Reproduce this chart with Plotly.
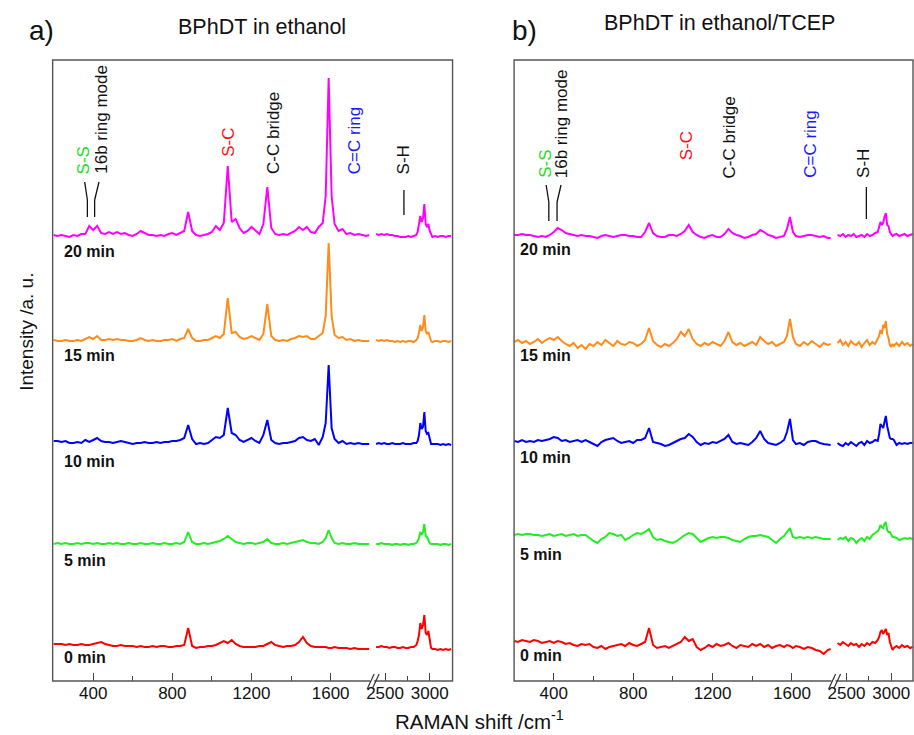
import plotly.graph_objects as go

# ---------------- data ----------------
# Raman shift grids (cm^-1): low segment and high segment (broken axis)
LOW_X = list(range(200, 1561, 20)) + [1575, 1590, 1605] + list(range(1620, 1781, 20)) + [1795]
HIGH_X = list(range(2400, 2851, 30)) + list(range(2865, 3031, 15)) + list(range(3060, 3241, 30))

TIMES = ["0 min", "5 min", "10 min", "15 min", "20 min"]
COLORS = ["#FF0000", "#22EE22", "#0000FF", "#FF8C1A", "#FF00FF"]

# stacking offsets of each spectrum (a.u.)
OFFSETS_A = [36, 137, 238, 340, 445]
OFFSETS_B = [39, 146, 239, 339, 446]

# ---- panel a: BPhDT in ethanol ----
a0_low = [1, 1, 1, 0, 1, 0, 0, 1, 0, 0,
          1, 2, 3, 1, 0, -1, -1, 0, -1, -1,
          -1, -2, -1, -2, -2, -1, -2, -1, -1, -2,
          -2, -1, -1, 0, 17, -1, -3, -2, -2, -1,
          -1, 0, 2, 4, 2, 5, 1, -1, -2, -2,
          -2, -2, -1, -1, 1, 3, 0, -1, -2, -1,
          -1, 0, 3, 8, 2, -1, -2, -2, -2,
          -2, -3, -3,
          -2, -3, -3, -3, -4, -3, -4, -4, -4,
          -4]
a0_high = [-2, -2, -1, -2, -2, -3, -2, -2, -3, -3, -2, -3, -3, -2, -2, 0,
           4, 10, 22, 16, 20, 30, 12, 10, 14, 3, -3, -4,
           -4, -5, -4, -5, -4, -5, -4]

a5_low = [0, 1, 0, 1, 0, 0, 1, 0, 1, 1,
          0, 1, 0, 0, 1, 0, 1, 0, 0, 1,
          0, 0, 1, 0, 0, 1, 0, 0, 1, 0,
          0, 1, 0, 2, 12, 2, 0, 0, 1, 0,
          1, 2, 3, 5, 8, 5, 2, 1, 0, 1,
          1, 0, 1, 2, 5, 1, 0, 0, 1, 0,
          1, 2, 3, 4, 2, 1, 1, 0, 2,
          6, 14, 6,
          1, 0, 1, 0, 0, 1, 0, 0, 0,
          0]
a5_high = [0, 0, 1, 0, 0, 0, -1, 0, 0, -1, 0, 0, -1, 0, 0, 1,
           3, 6, 12, 9, 12, 20, 8, 7, 4, 1, 0, 0,
           0, 0, -1, 0, 0, -1, 0]

a10_low = [2, 2, 1, 2, 0, 0, 1, 0, 3, 1,
           3, 5, 2, 1, 1, 0, 1, 2, 1, 0,
           -1, 0, 0, 1, 0, 0, 1, 0, 1, 1,
           2, 2, 3, 5, 18, 4, -1, 0, -1, 0,
           3, 6, 5, 8, 35, 10, 8, 3, 1, 3,
           5, 2, 0, 8, 23, 3, 0, -1, 0, 0,
           1, 2, 5, 6, 3, 2, 4, -2, 6,
           20, 78, 15,
           4, 0, 2, -1, 0, -1, 0, -1, -1,
           -1]
a10_high = [-1, 0, -1, 0, -1, -1, 0, -1, -1, -1, 0, -1, -1, -1, 0, 0,
            2, 8, 20, 14, 16, 31, 12, 9, 10, 3, -1, -1,
            -1, -1, -2, -1, -2, -1, -2]

a15_low = [1, 0, 0, 1, 0, 0, 1, 0, 2, 4,
           2, 5, 1, 1, 2, 1, 2, 1, 1, 0,
           0, 1, 3, 1, 0, 1, 0, 0, 1, 1,
           2, 0, 2, 3, 12, 3, 0, 0, 1, 1,
           3, 5, 3, 7, 43, 8, 9, 4, 2, 3,
           5, 3, 1, 7, 37, 5, 1, 0, 1, 0,
           2, 3, 5, 4, 5, 2, 2, 5, 8,
           25, 98, 25,
           6, 3, 4, 1, 2, 0, 1, 0, 0,
           0]
a15_high = [1, 0, 1, 0, 1, 0, 0, -1, 0, -1, 0, -1, 0, 0, -1, 1,
            3, 8, 16, 10, 14, 26, 10, 7, 9, 3, 0, -1,
            0, 0, -1, 0, 0, -1, 0]

a20_low = [1, 0, 1, 0, -1, 1, 0, 2, 2, 10,
           6, 10, 3, 2, 4, 2, 4, 2, 3, 1,
           0, 2, 5, 3, 1, 1, 0, 1, 0, 2,
           3, 1, 3, 5, 24, 5, 1, 0, 1, 2,
           4, 10, 6, 13, 70, 14, 17, 8, 3, 5,
           9, 5, 2, 12, 49, 8, 2, 1, 2, 1,
           3, 5, 9, 6, 9, 4, 3, 9, 13,
           40, 158, 40,
           12, 5, 7, 2, 3, 1, 2, 1, 0,
           1]
a20_high = [2, 1, 2, 1, 2, 1, 1, 0, 0, -1, -1, -1, 0, -1, 0, 1,
            4, 12, 20, 14, 18, 32, 12, 9, 12, 5, 1, -1,
            0, -1, 0, 0, -1, 0, 0]

# ---- panel b: BPhDT in ethanol/TCEP ----
b0_low = [1, 0, 2, 1, 0, 2, 1, -1, 0, 1,
          -1, 1, 0, -2, -1, -3, -4, -2, -3, -2,
          -5, -6, -4, -7, -5, -4, -3, -2, -4, -1,
          -3, -4, -2, 0, 14, -3, -6, -5, -4, -6,
          -4, -2, 0, 5, 1, 3, -5, -8, -6, -3,
          -5, -2, -4, -3, -1, -4, -6, -3, -4, -5,
          -2, -4, -2, -5, -3, -6, -4, -3, -5,
          -3, -4, -6,
          -4, -5, -7, -5, -6, -8, -9, -12, -8,
          -7]
b0_high = [-1, -3, 0, -2, -4, -1, -3, -2, -5, -2, -4, -1, -3, 0, -1, 2,
           5, 10, 12, 8, 10, 13, 7, 9, 0, -5, -8, -6,
           -4, -6, -3, -5, -4, -6, -5]

b5_low = [0, 1, 0, 1, 1, 0, 0, -1, 0, 1,
          -1, 0, 1, -1, 0, 1, -1, 0, 0, -3,
          -6, -8, -4, -2, 2, 1, -1, 0, -5, -3,
          0, 2, 1, 3, 6, -2, -5, -4, -6, -7,
          -8, -6, -3, 0, 2, 1, -3, -7, -5, -3,
          -2, -3, -2, -2, -3, -5, -6, -7, -4, -2,
          -1, -1, 0, -1, -2, -5, -8, -4, -1,
          3, 7, -2,
          -3, -2, -3, -2, -3, -2, -3, -4, -4,
          -4]
b5_high = [-5, -3, -4, -2, -6, -3, -4, -8, -5, -3, -6, -2, -4, 0, 2, 4,
           6, 10, 8, 7, 11, 13, 5, 3, 3, 0, -2, -2,
           -3, -5, -4, -3, -4, -3, -4]

b10_low = [1, 0, 2, 0, 1, 0, 2, 1, 2, 3,
           5, 4, 1, 2, 0, 1, 2, 0, 2, 0,
           -2, -4, 0, 2, 3, 4, 1, -1, 0, 1,
           -1, 2, 2, 4, 14, 0, -1, -2, -4, -3,
           -1, 1, 3, 4, 8, 5, 0, -3, -1, -2,
           0, -1, 1, 3, 7, 0, -2, -1, -2, -3,
           0, 4, 11, 3, -1, -2, -3, -1, 2,
           10, 23, 2,
           -2, -1, -3, 0, 1, 1, -1, -2, -3,
           -3]
b10_high = [-1, -3, -4, -1, -3, 0, -2, -4, -1, 0, -3, 1, -1, 0, 2, 1,
            8, 18, 16, 14, 20, 26, 16, 8, 4, 3, 3, 2,
            -3, -1, -2, -1, -2, -1, -1]

b15_low = [0, 2, -1, 1, -2, 0, 3, -1, 2, 4,
           2, 5, 1, -2, -4, -1, -6, -3, -7, -2,
           -4, 0, -3, 2, -1, -4, 1, -2, -3, 0,
           -1, -4, -2, 2, 14, 1, -3, -5, -2, -4,
           -1, 3, 10, 6, 13, 3, -2, -4, -1, -3,
           0, -2, -4, 1, 10, 0, -3, -1, -4, -2,
           0, -3, 5, 1, -2, 0, -4, -2, 0,
           6, 23, 5,
           -2, -4, 0, -3, 1, -2, -5, -1, -3,
           -2]
b15_high = [-1, 2, -3, 0, -4, 1, -2, -3, 0, -5, -1, 2, -3, 0, -2, 3,
            6, 12, 8, 17, 14, 21, 8, 4, -3, -5, -2, -4,
            -1, -4, 0, -3, -1, -4, -2]

b20_low = [0, 0, 1, 0, 0, -1, -2, -1, -2, 0,
           3, 7, 5, 2, 1, 0, -1, 0, -1, -1,
           -2, -3, -1, 0, -1, -2, -1, 0, 0, -1,
           -1, -2, -2, 3, 12, 2, -1, -2, -2, 0,
           0, -1, 1, 4, 10, 3, 0, -2, -3, -1,
           0, -2, -2, 1, 6, 2, 0, -1, -3, -2,
           0, 1, 5, 3, 0, -1, -3, -2, -1,
           6, 18, 3,
           -1, -2, -1, 0, 0, -1, -2, -1, -3,
           -3]
b20_high = [0, -1, 1, -2, 0, -1, 1, -2, -1, 0, -2, 1, -1, 0, 2, 3,
            8, 13, 10, 12, 18, 22, 10, 9, 3, 1, -1, 0,
            1, -1, 0, 1, -1, 0, 1]

SPECTRA_A = [(a0_low, a0_high), (a5_low, a5_high), (a10_low, a10_high),
             (a15_low, a15_high), (a20_low, a20_high)]
SPECTRA_B = [(b0_low, b0_high), (b5_low, b5_high), (b10_low, b10_high),
             (b15_low, b15_high), (b20_low, b20_high)]

LOW_TICKS = [400, 800, 1200, 1600]
LOW_MINOR = [600, 1000, 1400]
HIGH_TICKS = [2500, 3000]
HIGH_MINOR = [2750]

# ---------------- figure ----------------
W, H = 914, 735
FONT = "Liberation Sans, Arial, Helvetica, sans-serif"


def px(x):
    return x / W


def py(y):
    return 1 - y / H


fig = go.Figure()

panels = [
    dict(spec=SPECTRA_A, offs=OFFSETS_A, xl="x", xh="x2", y="y"),
    dict(spec=SPECTRA_B, offs=OFFSETS_B, xl="x3", xh="x4", y="y2"),
]
for p in panels:
    for (low, high), off, col in zip(p["spec"], p["offs"], COLORS):
        fig.add_trace(go.Scatter(x=LOW_X, y=[v + off for v in low], mode="lines",
                                 line=dict(color=col, width=2), xaxis=p["xl"], yaxis=p["y"],
                                 hoverinfo="skip"))
        fig.add_trace(go.Scatter(x=HIGH_X, y=[v + off for v in high], mode="lines",
                                 line=dict(color=col, width=2), xaxis=p["xh"], yaxis=p["y"],
                                 hoverinfo="skip"))

ydom = [py(681), py(60)]
common_x = dict(showgrid=False, zeroline=False, showline=False, ticks="inside",
                ticklen=8, tickwidth=1.2, tickcolor="#444",
                tickfont=dict(family=FONT, size=17, color="#111"), fixedrange=True)


def xax(dom, rng, ticks, minor, anchor):
    d = dict(common_x)
    d.update(domain=[px(dom[0]), px(dom[1])], range=rng, tickmode="array",
             tickvals=ticks, ticktext=[str(t) for t in ticks], anchor=anchor,
             minor=dict(tickvals=minor, ticks="inside", ticklen=5, tickwidth=1.2, tickcolor="#444"))
    return d


fig.update_layout(
    width=W, height=H, margin=dict(l=0, r=0, t=0, b=0),
    paper_bgcolor="white", plot_bgcolor="white", showlegend=False,
    xaxis=xax((46, 369), [195, 1815], LOW_TICKS, LOW_MINOR, "y"),
    xaxis2=xax((369, 449), [2367, 3256], HIGH_TICKS, HIGH_MINOR, "y"),
    xaxis3=xax((511, 833), [200, 1810], LOW_TICKS, LOW_MINOR, "y2"),
    xaxis4=xax((833, 913), [2356, 3244], HIGH_TICKS, HIGH_MINOR, "y2"),
    yaxis=dict(domain=ydom, range=[0, 621], visible=False, anchor="x", fixedrange=True),
    yaxis2=dict(domain=ydom, range=[0, 621], visible=False, anchor="x3", fixedrange=True),
)

shapes = []
frame = dict(color="#555", width=1.4)
for (l, r) in [(46, 449), (511, 913)]:
    shapes.append(dict(type="rect", xref="paper", yref="paper", x0=px(l), x1=px(r),
                       y0=py(681), y1=py(60), line=frame, fillcolor="rgba(0,0,0,0)"))
# axis break marks
for bx in (363, 828):
    shapes.append(dict(type="rect", xref="paper", yref="paper", x0=px(bx + 3), x1=px(bx + 7),
                       y0=py(683), y1=py(679), line=dict(width=0), fillcolor="white"))
    for dx in (0, 5):
        shapes.append(dict(type="line", xref="paper", yref="paper",
                           x0=px(bx + dx), y0=py(689), x1=px(bx + dx + 7), y1=py(674),
                           line=dict(color="#333", width=1.2)))
# leader lines for peak labels
lead = dict(color="#111", width=1.3)
leaders = [
    [(81, 217), (81, 200), (78.3, 182)],
    [(88.3, 217), (88.3, 200), (92.7, 182)],
    [(400, 215), (400, 190)],
    [(546, 221), (546, 202), (543.3, 185)],
    [(554.3, 221), (554.3, 202), (558.3, 185)],
    [(866, 219), (866, 187)],
]
for pts in leaders:
    for (x0, y0), (x1, y1) in zip(pts[:-1], pts[1:]):
        shapes.append(dict(type="line", xref="paper", yref="paper", x0=px(x0), y0=py(y0),
                           x1=px(x1), y1=py(y1), line=lead))
fig.update_layout(shapes=shapes)

ann = []


def text(x, y, s, size=17, color="#111", bold=False, angle=0, xa="center", ya="middle"):
    if bold:
        s = "<b>" + s + "</b>"
    ann.append(dict(x=px(x), y=py(y), xref="paper", yref="paper", text=s, showarrow=False,
                    textangle=angle, xanchor=xa, yanchor=ya,
                    font=dict(family=FONT, size=size, color=color)))


# panel headers
text(35, 30, "a)", size=28)
text(257, 27, "BPhDT in ethanol", size=21.5)
text(521, 30, "b)", size=28)
text(718, 23, "BPhDT in ethanol/TCEP", size=21.5)

# time labels
for lab, y in zip(TIMES, [657, 560, 461, 356, 251]):
    text(55, y, lab, size=16, bold=True, xa="left")
for lab, y in zip(TIMES, [655, 554, 458, 356, 250]):
    text(515, y, lab, size=16, bold=True, xa="left")

GREEN_T, RED_T, BLUE_T = "#22DD22", "#FF1010", "#1A1AFF"
peak_labels_a = [(77, 176, "S-S", GREEN_T), (95, 176, "16b ring mode", "#111"),
                 (223, 159, "S-C", RED_T), (268, 176, "C-C bridge", "#111"),
                 (350, 176, "C=C ring", BLUE_T), (400, 176, "S-H", "#111")]
peak_labels_b = [(542, 180, "S-S", GREEN_T), (559, 180, "16b ring mode", "#111"),
                 (685, 162, "S-C", RED_T), (728, 180, "C-C bridge", "#111"),
                 (809, 180, "C=C ring", BLUE_T), (863, 180, "S-H", "#111")]
for x, y, s, c in peak_labels_a + peak_labels_b:
    text(x, y, s, size=17, color=c, angle=-90, ya="bottom")

# axis titles
text(19, 332, "Intensity /a. u.", size=19, angle=-90)
text(476, 720, "RAMAN shift /cm<sup>-1</sup>", size=20.5)

fig.update_layout(annotations=ann)
fig.write_html("out.html")
